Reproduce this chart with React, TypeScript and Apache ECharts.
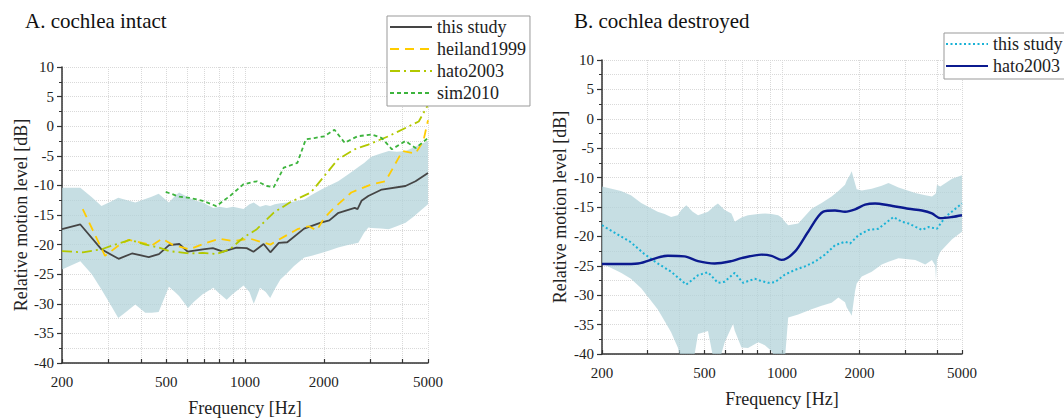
import React, { useEffect, useRef } from "react";
import * as echarts from "echarts";

// ---------- Panel A: cochlea intact ----------
const bandAFreq = [200, 235, 260, 283, 305, 328, 355, 381, 416, 440, 468, 512, 540, 560, 606, 640, 689, 757, 800, 851, 900, 987, 1040, 1080, 1141, 1200, 1248, 1300, 1365, 1450, 1539, 1685, 1800, 1956, 2100, 2269, 2450, 2631, 2710, 2850, 2960, 3052, 3300, 3540, 3800, 4105, 4400, 4700, 5000];
const bandAUpper = [-10.4, -10.4, -12.0, -13.5, -12.8, -12.1, -12.5, -12.9, -12.3, -11.9, -11.4, -12.9, -11.8, -11.2, -12.0, -12.5, -12.9, -13.8, -13.6, -13.8, -13.6, -14.0, -13.2, -12.9, -13.6, -13.3, -13.5, -13.2, -13.0, -12.9, -12.7, -12.4, -11.6, -10.7, -10.0, -9.3, -8.3, -7.3, -6.9, -6.2, -5.6, -5.1, -4.6, -4.2, -4.3, -4.2, -3.6, -3.0, -2.5];
const bandALower = [-24.2, -22.8, -25.0, -27.6, -30.0, -32.4, -31.2, -30.1, -31.5, -31.5, -31.4, -27.1, -28.0, -28.7, -30.7, -29.6, -28.4, -27.3, -28.3, -29.3, -28.3, -26.9, -28.0, -30.0, -27.3, -28.0, -29.0, -27.5, -25.9, -24.8, -23.6, -22.2, -21.9, -21.4, -21.0, -20.5, -20.1, -19.8, -19.7, -18.0, -17.1, -17.2, -17.3, -17.4, -16.9, -16.3, -15.3, -14.2, -13.2];

const studyAFreq = [200, 235, 283, 329, 370, 429, 469, 513, 561, 604, 690, 754, 824, 928, 1015, 1077, 1178, 1250, 1346, 1450, 1682, 1950, 2100, 2263, 2625, 2690, 2786, 2957, 3330, 4100, 4480, 5000];
const studyADb = [-17.4, -16.6, -20.8, -22.4, -21.5, -22.1, -21.6, -20.1, -19.9, -21.2, -20.8, -20.6, -21.2, -20.5, -20.6, -21.2, -19.9, -21.3, -19.7, -19.6, -17.3, -16.3, -15.9, -14.7, -13.8, -14.0, -12.6, -11.8, -10.7, -10.1, -9.3, -7.9];

const heilandFreq = [240, 292, 328, 359, 404, 442, 483, 528, 613, 711, 800, 902, 1046, 1250, 1406, 1585, 1750, 1880, 2000, 2163, 2546, 3052, 3440, 3650, 3990, 4480, 4800, 5000];
const heilandDb = [-14.0, -21.9, -20.2, -19.2, -19.7, -20.1, -19.0, -20.0, -20.8, -19.7, -19.0, -19.4, -19.0, -20.0, -18.7, -17.4, -16.9, -17.6, -15.6, -14.0, -11.2, -9.8, -9.3, -7.3, -4.2, -4.6, -2.5, 1.0];

const hatoAFreq = [200, 240, 283, 319, 364, 417, 469, 513, 613, 690, 777, 875, 987, 1110, 1288, 1493, 1784, 2010, 2263, 2625, 2957, 3530, 4100, 4610, 5000];
const hatoADb = [-21.1, -21.3, -20.8, -20.0, -19.2, -20.0, -20.5, -21.1, -21.5, -21.4, -21.6, -20.8, -18.8, -17.4, -14.6, -12.8, -11.2, -8.4, -5.6, -3.9, -3.1, -1.7, -0.3, 0.8, 3.6];

const simFreq = [498, 561, 613, 690, 777, 875, 987, 1110, 1213, 1288, 1406, 1585, 1707, 1838, 2010, 2196, 2403, 2690, 3052, 3330, 3640, 4100, 4480, 5000];
const simDb = [-11.1, -11.9, -12.1, -12.6, -13.5, -11.8, -9.8, -9.3, -10.1, -10.3, -7.0, -6.2, -2.2, -2.0, -1.7, -0.6, -2.8, -1.7, -1.4, -2.0, -3.9, -2.5, -3.7, -2.0];

// ---------- Panel B: cochlea destroyed ----------
const bandBFreq = [200, 237, 259, 284, 329, 350, 371, 394, 406, 425, 450, 472, 516, 548, 564, 599, 636, 646, 655, 696, 738, 808, 858, 910, 966, 996, 1026, 1057, 1156, 1303, 1425, 1559, 1655, 1757, 1784, 1838, 1865, 1922, 1950, 2040, 2231, 2440, 2591, 2834, 3292, 3600, 3822, 3938, 3962, 3997, 4118, 4574, 5000];
const bandBUpper = [-11.5, -12.3, -13.0, -14.3, -15.8, -16.2, -16.7, -16.4, -15.5, -14.7, -15.8, -16.4, -15.8, -14.8, -14.4, -15.5, -16.1, -16.8, -17.5, -16.8, -16.4, -16.2, -16.1, -16.2, -16.4, -16.8, -17.5, -18.1, -17.8, -15.3, -14.3, -13.2, -12.3, -11.2, -10.5, -9.5, -8.9, -11.0, -12.0, -12.2, -11.9, -11.4, -10.9, -11.7, -12.6, -13.0, -13.2, -12.8, -12.6, -11.2, -11.5, -10.2, -9.6];
const bandBLower = [-24.6, -26.2, -27.2, -28.8, -32.4, -34.4, -36.3, -38.9, -41.0, -43.0, -42.0, -36.6, -36.1, -42.0, -42.0, -38.0, -35.5, -34.9, -36.0, -38.9, -39.0, -38.0, -38.5, -39.5, -41.5, -42.0, -41.0, -33.8, -33.3, -32.4, -31.8, -31.3, -30.4, -31.2, -32.1, -33.0, -33.5, -29.3, -28.0, -26.8, -26.0, -24.8, -24.3, -23.7, -24.0, -24.8, -24.0, -25.0, -27.4, -24.0, -22.6, -20.5, -19.2];

const studyBFreq = [200, 259, 292, 329, 371, 425, 472, 516, 564, 599, 655, 706, 784, 832, 884, 938, 1026, 1122, 1227, 1343, 1468, 1607, 1757, 1838, 1980, 2166, 2368, 2514, 2710, 2920, 3100, 3494, 3710, 3997, 4308, 4714, 5000];
const studyBDb = [-18.1, -21.0, -23.0, -24.6, -26.0, -28.2, -26.6, -26.1, -27.9, -27.7, -26.2, -27.9, -27.2, -27.6, -27.9, -27.8, -26.5, -25.7, -25.1, -24.3, -23.1, -21.5, -20.9, -21.2, -19.8, -18.9, -18.7, -17.8, -16.7, -17.5, -17.8, -18.9, -18.4, -18.7, -16.7, -15.3, -14.4];

const hatoBFreq = [200, 237, 276, 329, 360, 418, 472, 548, 636, 696, 832, 910, 996, 1122, 1264, 1447, 1607, 1757, 1922, 2102, 2298, 2591, 3100, 3494, 3822, 4118, 4574, 5000];
const hatoBDb = [-24.7, -24.7, -24.6, -23.6, -23.3, -23.4, -24.2, -24.6, -24.2, -23.7, -23.1, -23.3, -24.0, -22.6, -19.2, -15.8, -15.6, -15.8, -15.4, -14.6, -14.4, -14.7, -15.3, -15.6, -16.1, -16.9, -16.7, -16.4];

// ---------- Axis ticks ----------
const freqMin = 200;
const freqMax = 5000;
const tickFreqs = [200, 300, 400, 500, 600, 700, 800, 900, 1000, 2000, 3000, 4000, 5000];
const labelFreqs = [200, 500, 1000, 2000, 5000];
const dbMin = -40;
const dbMax = 10;
const dbStep = 5;

const SERIF = "Liberation Serif";
const BAND_COLOR = "rgba(176, 209, 216, 0.72)";
const GRID_LINE = { color: "#d9d9d9", type: "dotted" as const, width: 1 };

const lg = (f: number) => Math.log10(f);
const pairs = (freqs: number[], vals: number[]) => freqs.map((f, i) => [lg(f), vals[i]]);

// Shaded range: upper edge left to right, then lower edge back, clipped to the plot area
function bandSeries(gridIndex: number, freqs: number[], upper: number[], lower: number[]) {
  const top = pairs(freqs, upper);
  const bottom = pairs(freqs, lower).reverse();
  const outline = top.concat(bottom);
  return {
    type: "custom",
    name: "band" + gridIndex,
    xAxisIndex: gridIndex,
    yAxisIndex: gridIndex,
    clip: true,
    silent: true,
    z: 1,
    data: [[lg(freqs[0]), upper[0]]],
    renderItem: (params: any, api: any) => {
      const cs = params.coordSys;
      return {
        type: "group",
        clipPath: { type: "rect", shape: { x: cs.x, y: cs.y, width: cs.width, height: cs.height } },
        children: [
          {
            type: "polygon",
            shape: { points: outline.map((p) => api.coord(p)) },
            style: { fill: BAND_COLOR },
          },
        ],
      };
    },
  };
}

function lineSeries(
  name: string,
  gridIndex: number,
  freqs: number[],
  vals: number[],
  color: string,
  width: number,
  type: any,
  smooth: number | boolean = false
) {
  return {
    type: "line",
    name,
    xAxisIndex: gridIndex,
    yAxisIndex: gridIndex,
    data: pairs(freqs, vals),
    symbol: "none",
    showSymbol: false,
    smooth,
    z: 3,
    lineStyle: { color, width, type },
    itemStyle: { color },
  };
}

// Frequency axis on a log10 scale
function xAxis(gridIndex: number) {
  return {
    type: "value",
    gridIndex,
    min: lg(freqMin),
    max: lg(freqMax),
    name: "Frequency [Hz]",
    nameLocation: "middle",
    nameGap: 36,
    nameTextStyle: { fontFamily: SERIF, fontSize: 18, color: "#222" },
    axisLine: { show: true, onZero: false, lineStyle: { color: "#333", width: 1.5 } },
    axisTick: { show: true, inside: true, length: 4, customValues: tickFreqs.map(lg), lineStyle: { color: "#333", width: 1.2 } },
    axisLabel: {
      show: true,
      margin: 11,
      customValues: labelFreqs.map(lg),
      formatter: (v: number) => String(Math.round(Math.pow(10, v))),
      fontFamily: SERIF,
      fontSize: 15,
      color: "#222",
    },
    splitLine: { show: true, lineStyle: GRID_LINE },
  };
}

function yAxis(gridIndex: number, nameGap: number) {
  return {
    type: "value",
    gridIndex,
    min: dbMin,
    max: dbMax,
    interval: dbStep,
    name: "Relative motion level [dB]",
    nameLocation: "middle",
    nameGap,
    nameTextStyle: { fontFamily: SERIF, fontSize: 18, color: "#222" },
    axisLine: { show: true, onZero: false, lineStyle: { color: "#333", width: 1.5 } },
    axisTick: { show: true, inside: false, length: 5, lineStyle: { color: "#333", width: 1.2 } },
    minorTick: { show: true, splitNumber: 2, length: 3, lineStyle: { color: "#333", width: 1 } },
    axisLabel: { show: true, margin: 8, fontFamily: SERIF, fontSize: 15, color: "#222" },
    splitLine: { show: true, lineStyle: GRID_LINE },
    minorSplitLine: { show: true, lineStyle: GRID_LINE },
  };
}

const legendText = { fontFamily: SERIF, fontSize: 18, color: "#222", lineHeight: 18 };

export default function App() {
  const ref = useRef<HTMLDivElement>(null);

  useEffect(() => {
    if (!ref.current) return;
    const chart = echarts.init(ref.current, undefined, { renderer: "svg" });
    chart.setOption({
      animation: false,
      backgroundColor: "#ffffff",
      textStyle: { fontFamily: SERIF },
      title: [
        {
          text: "A. cochlea intact",
          left: 25,
          top: 10,
          padding: 0,
          textStyle: { fontFamily: SERIF, fontSize: 21, fontWeight: "normal", color: "#111" },
        },
        {
          text: "B. cochlea destroyed",
          left: 574,
          top: 10,
          padding: 0,
          textStyle: { fontFamily: SERIF, fontSize: 21, fontWeight: "normal", color: "#111" },
        },
      ],
      legend: [
        {
          orient: "vertical",
          left: 387,
          top: 16,
          padding: [2, 4, 4, 2],
          itemWidth: 42,
          itemHeight: 14,
          itemGap: 4,
          borderColor: "#999",
          borderWidth: 1,
          backgroundColor: "#fff",
          textStyle: legendText,
          itemStyle: { opacity: 0 },
          selectedMode: false,
          data: ["this study", "heiland1999", "hato2003", "sim2010"],
        },
        {
          orient: "vertical",
          left: 944,
          top: 33,
          padding: [2, 4, 4, 1],
          itemWidth: 42,
          itemHeight: 14,
          itemGap: 4,
          borderColor: "#999",
          borderWidth: 1,
          backgroundColor: "#fff",
          textStyle: legendText,
          itemStyle: { opacity: 0 },
          selectedMode: false,
          formatter: (name: string) => name.replace(/^B: /, ""),
          data: ["B: this study", "B: hato2003"],
        },
      ],
      grid: [
        { left: 62, top: 67, width: 366, height: 296, outerBoundsMode: "none" },
        { left: 602, top: 60, width: 360, height: 294, outerBoundsMode: "none" },
      ],
      xAxis: [xAxis(0), xAxis(1)],
      yAxis: [yAxis(0, 28), yAxis(1, 33)],
      series: [
        bandSeries(0, bandAFreq, bandAUpper, bandALower),
        lineSeries("this study", 0, studyAFreq, studyADb, "#454545", 1.8, "solid"),
        lineSeries("heiland1999", 0, heilandFreq, heilandDb, "#ffcc00", 1.8, [9, 6]),
        lineSeries("hato2003", 0, hatoAFreq, hatoADb, "#b2c800", 1.8, [10, 4, 2, 4]),
        lineSeries("sim2010", 0, simFreq, simDb, "#3db43d", 1.8, [4, 3]),
        bandSeries(1, bandBFreq, bandBUpper, bandBLower),
        lineSeries("B: this study", 1, studyBFreq, studyBDb, "#1ab2d6", 2, [2, 2.5]),
        lineSeries("B: hato2003", 1, hatoBFreq, hatoBDb, "#0b1a8f", 2.4, "solid", 0.3),
      ],
    });
    return () => chart.dispose();
  }, []);

  return (
    <div
      ref={ref}
      style={{ position: "fixed", left: 0, top: 0, width: 1064, height: 419, background: "#fff" }}
    />
  );
}
